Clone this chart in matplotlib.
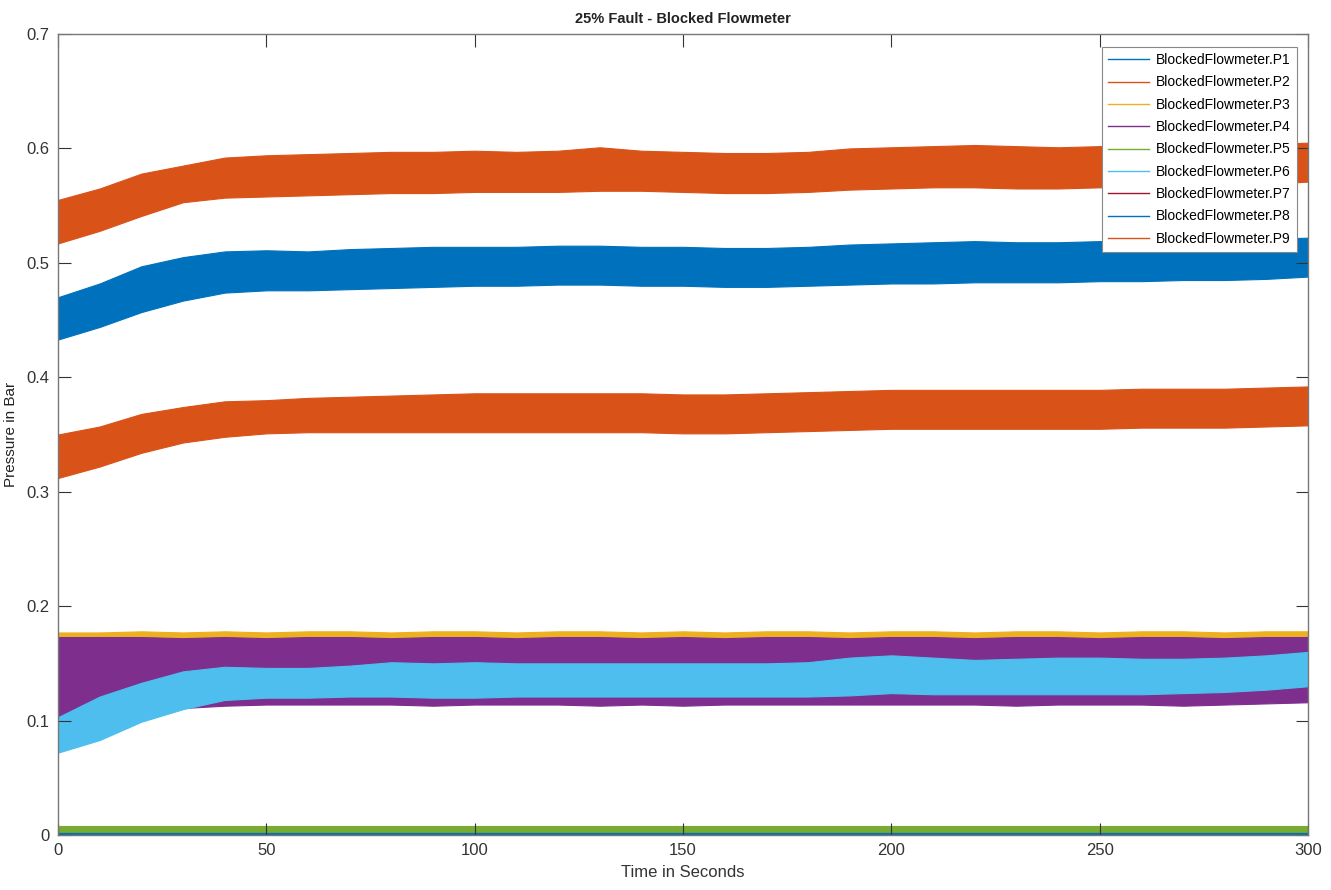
import numpy as np
import matplotlib
matplotlib.use("Agg")
import matplotlib.pyplot as plt
from matplotlib.lines import Line2D

# time base of the envelope samples (s)
time = np.arange(0, 301, 10)

# band limits (lower / upper) of each pressure signal in bar
p1_lo = [0.433, 0.444, 0.457, 0.467, 0.474, 0.476, 0.476, 0.477, 0.478, 0.479, 0.480,
         0.480, 0.481, 0.481, 0.480, 0.480, 0.479, 0.479, 0.480, 0.481, 0.482,
         0.482, 0.483, 0.483, 0.483, 0.484, 0.484, 0.485, 0.485, 0.486, 0.488]
p1_hi = [0.470, 0.482, 0.497, 0.505, 0.510, 0.511, 0.510, 0.512, 0.513, 0.514, 0.514,
         0.514, 0.515, 0.515, 0.514, 0.514, 0.513, 0.513, 0.514, 0.516, 0.517,
         0.518, 0.519, 0.518, 0.518, 0.519, 0.519, 0.519, 0.520, 0.521, 0.522]
p2_lo = [0.312, 0.322, 0.334, 0.343, 0.348, 0.351, 0.352, 0.352, 0.352, 0.352, 0.352,
         0.352, 0.352, 0.352, 0.352, 0.351, 0.351, 0.352, 0.353, 0.354, 0.355,
         0.355, 0.355, 0.355, 0.355, 0.355, 0.356, 0.356, 0.356, 0.357, 0.358]
p2_hi = [0.350, 0.357, 0.368, 0.374, 0.379, 0.380, 0.382, 0.383, 0.384, 0.385, 0.386,
         0.386, 0.386, 0.386, 0.386, 0.385, 0.385, 0.386, 0.387, 0.388, 0.389,
         0.389, 0.389, 0.389, 0.389, 0.389, 0.390, 0.390, 0.390, 0.391, 0.392]
p3_lo = [0.140] * 31
p3_hi = [0.177, 0.177, 0.178, 0.177, 0.178, 0.177, 0.178, 0.178, 0.177, 0.178, 0.178,
         0.177, 0.178, 0.178, 0.177, 0.178, 0.177, 0.178, 0.178, 0.177, 0.178,
         0.178, 0.177, 0.178, 0.178, 0.177, 0.178, 0.178, 0.177, 0.178, 0.178]
p4_lo = [0.100, 0.104, 0.108, 0.111, 0.113, 0.114, 0.114, 0.114, 0.114, 0.113, 0.114,
         0.114, 0.114, 0.113, 0.114, 0.113, 0.114, 0.114, 0.114, 0.114, 0.114,
         0.114, 0.114, 0.113, 0.114, 0.114, 0.114, 0.113, 0.114, 0.115, 0.116]
p4_hi = [0.173, 0.173, 0.173, 0.172, 0.173, 0.172, 0.173, 0.173, 0.172, 0.173, 0.173,
         0.172, 0.173, 0.173, 0.172, 0.173, 0.172, 0.173, 0.173, 0.172, 0.173,
         0.173, 0.172, 0.173, 0.173, 0.172, 0.173, 0.173, 0.172, 0.173, 0.173]
p5_lo = [0.003] * 31
p5_hi = [0.008] * 31
p6_lo = [0.072, 0.083, 0.099, 0.110, 0.118, 0.120, 0.120, 0.121, 0.121, 0.120, 0.120,
         0.121, 0.121, 0.121, 0.121, 0.121, 0.121, 0.121, 0.121, 0.122, 0.124,
         0.123, 0.123, 0.123, 0.123, 0.123, 0.123, 0.124, 0.125, 0.127, 0.130]
p6_hi = [0.103, 0.121, 0.133, 0.143, 0.147, 0.146, 0.146, 0.148, 0.151, 0.150, 0.151,
         0.150, 0.150, 0.150, 0.150, 0.150, 0.150, 0.150, 0.151, 0.155, 0.157,
         0.155, 0.153, 0.154, 0.155, 0.155, 0.154, 0.154, 0.155, 0.157, 0.160]
p7_lo = [0.000] * 31
p7_hi = [0.0015] * 31
p8_lo = [0.0005] * 31
p8_hi = [0.0015] * 31
p9_lo = [0.517, 0.528, 0.541, 0.553, 0.557, 0.558, 0.559, 0.560, 0.561, 0.561, 0.562,
         0.562, 0.562, 0.563, 0.563, 0.562, 0.561, 0.561, 0.562, 0.564, 0.565,
         0.566, 0.566, 0.565, 0.565, 0.566, 0.566, 0.567, 0.567, 0.569, 0.571]
p9_hi = [0.555, 0.565, 0.578, 0.585, 0.592, 0.594, 0.595, 0.596, 0.597, 0.597, 0.598,
         0.597, 0.598, 0.601, 0.598, 0.597, 0.596, 0.596, 0.597, 0.600, 0.601,
         0.602, 0.603, 0.602, 0.601, 0.602, 0.603, 0.603, 0.603, 0.604, 0.605]

labels = ["BlockedFlowmeter.P%d" % i for i in range(1, 10)]
bands = [(p1_lo, p1_hi), (p2_lo, p2_hi), (p3_lo, p3_hi), (p4_lo, p4_hi), (p5_lo, p5_hi),
         (p6_lo, p6_hi), (p7_lo, p7_hi), (p8_lo, p8_hi), (p9_lo, p9_hi)]
# MATLAB default line colours
colors = ["#0072BD", "#D95319", "#EDB120", "#7E2F8E", "#77AC30",
          "#4DBEEE", "#A2142F", "#0072BD", "#D95319"]

plt.rcParams["font.family"] = ["Liberation Sans", "DejaVu Sans"]

fig = plt.figure(figsize=(13.31, 8.90), dpi=100)
ax = fig.add_axes([0.0436, 0.0618, 0.9391, 0.9000])

for (lo, hi), c in zip(bands, colors):
    ax.fill_between(time, lo, hi, color=c, lw=0.8, edgecolor=c)

ax.set_xlim(0, 300)
ax.set_ylim(0, 0.7)
ax.set_xticks(np.arange(0, 301, 50))
ax.set_yticks(np.arange(0, 0.71, 0.1))
ax.set_yticklabels(["0", "0.1", "0.2", "0.3", "0.4", "0.5", "0.6", "0.7"])
ax.tick_params(direction="in", length=9, width=0.8, top=True, right=True,
               colors="#333333", labelsize=12, pad=6)
for sp in ax.spines.values():
    sp.set_color("#777777")
    sp.set_linewidth(1.0)

ax.set_title("25% Fault - Blocked Flowmeter", fontsize=10.5, fontweight="bold",
             color="#222222", pad=8)
ax.set_xlabel("Time in Seconds", fontsize=12, color="#333333", labelpad=5)
ax.set_ylabel("Pressure in Bar", fontsize=11, color="#222222", labelpad=6)

# legend uses plain line handles, as in the MATLAB figure
handles = [Line2D([0], [0], color=c, lw=1.0) for c in colors]
leg = ax.legend(handles, labels, loc="upper right", bbox_to_anchor=(0.991, 0.984),
                borderaxespad=0.0, prop={"size": 10}, frameon=True, fancybox=False,
                handlelength=2.9, handletextpad=0.5, labelspacing=0.6,
                borderpad=0.45, framealpha=1.0)
leg.get_frame().set_edgecolor("#888888")
leg.get_frame().set_linewidth(0.8)

fig.savefig("out.png", dpi=100)
